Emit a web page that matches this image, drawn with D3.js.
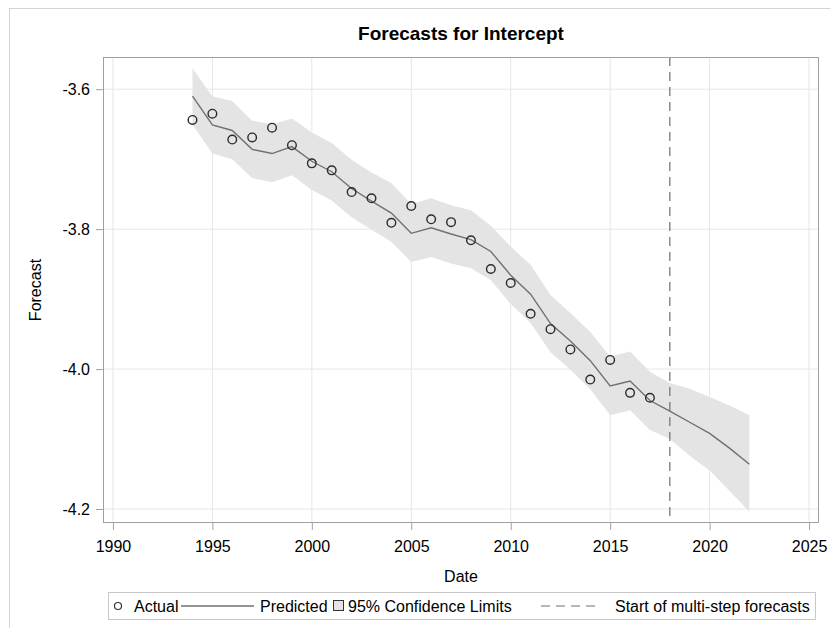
<!DOCTYPE html>
<head>
  <meta charset="utf-8">
  <script src="https://d3js.org/d3.v7.min.js"></script>
  <style>
    body { margin:0; background:#fff; }
    text { font-family: "Liberation Sans", Arial, sans-serif; fill:#000; }
  </style>
</head>

<body>
  <script>
    var width = 830;
    var height = 628;

    // data
    var actualYears = d3.range(1994, 2018);
    var actual = [-3.644, -3.635, -3.672, -3.669, -3.655, -3.680, -3.706, -3.716,
                  -3.747, -3.756, -3.791, -3.767, -3.786, -3.790, -3.816, -3.857,
                  -3.877, -3.921, -3.943, -3.972, -4.015, -3.987, -4.034, -4.041];

    var predYears = d3.range(1994, 2023);
    var predicted = [-3.610, -3.651, -3.659, -3.686, -3.692, -3.682, -3.703, -3.718,
                     -3.742, -3.760, -3.777, -3.806, -3.798, -3.807, -3.815, -3.832,
                     -3.866, -3.893, -3.935, -3.960, -3.988, -4.024, -4.017, -4.045,
                     -4.060, -4.076, -4.092, -4.113, -4.136];
    var upper = [-3.570, -3.610, -3.617, -3.645, -3.650, -3.642, -3.662, -3.677,
                 -3.701, -3.719, -3.734, -3.764, -3.756, -3.766, -3.773, -3.795,
                 -3.825, -3.851, -3.894, -3.920, -3.947, -3.982, -3.975, -4.004,
                 -4.020, -4.028, -4.040, -4.052, -4.066];
    var lower = [-3.651, -3.692, -3.700, -3.727, -3.733, -3.723, -3.744, -3.759,
                 -3.783, -3.801, -3.818, -3.847, -3.840, -3.849, -3.856, -3.873,
                 -3.907, -3.934, -3.976, -4.001, -4.029, -4.066, -4.059, -4.087,
                 -4.100, -4.124, -4.145, -4.174, -4.204];

    var forecastStart = 2018;
    var xTicks = [1990, 1995, 2000, 2005, 2010, 2015, 2020, 2025];
    var yTicks = [-3.6, -3.8, -4.0, -4.2];

    var margin = {top: 57, left: 103, right: 11, bottom: 105};

    var svg = d3.select("body")
      .append("svg")
      .attr("width", width)
      .attr("height", height);

    // outer frame (only top and left edges show)
    svg.append("rect")
      .attr("x", 9.5).attr("y", 8.5)
      .attr("width", width + 20).attr("height", height + 20)
      .attr("fill", "none").attr("stroke", "#d4d4d4");

    var x = d3.scaleLinear()
      .domain([1989.5, 2025.5])
      .range([margin.left, width - margin.right]);

    var y = d3.scaleLinear()
      .domain([-3.554, -4.22])
      .range([margin.top, height - margin.bottom]);

    var plotW = width - margin.right - margin.left;
    var plotH = height - margin.bottom - margin.top;

    // grid
    svg.append("g")
      .selectAll("line.vg")
      .data(xTicks)
      .enter().append("line")
      .attr("x1", function(d) { return x(d); })
      .attr("x2", function(d) { return x(d); })
      .attr("y1", margin.top).attr("y2", margin.top + plotH)
      .attr("stroke", "#e6e6e6");

    svg.append("g")
      .selectAll("line.hg")
      .data(yTicks)
      .enter().append("line")
      .attr("x1", margin.left).attr("x2", margin.left + plotW)
      .attr("y1", function(d) { return y(d); })
      .attr("y2", function(d) { return y(d); })
      .attr("stroke", "#e6e6e6");

    // confidence band
    var band = predYears.map(function(yr, i) {
      return {year: yr, lo: lower[i], hi: upper[i]};
    });
    svg.append("path")
      .datum(band)
      .attr("fill", "#e4e4e4")
      .attr("d", d3.area()
        .x(function(d) { return x(d.year); })
        .y0(function(d) { return y(d.lo); })
        .y1(function(d) { return y(d.hi); }));

    // predicted line
    svg.append("path")
      .datum(predYears.map(function(yr, i) { return {year: yr, v: predicted[i]}; }))
      .attr("fill", "none")
      .attr("stroke", "#707070")
      .attr("stroke-width", 1.4)
      .attr("d", d3.line()
        .x(function(d) { return x(d.year); })
        .y(function(d) { return y(d.v); }));

    // start of forecasts
    svg.append("line")
      .attr("x1", x(forecastStart)).attr("x2", x(forecastStart))
      .attr("y1", margin.top).attr("y2", margin.top + plotH)
      .attr("stroke", "#6e6e6e")
      .attr("stroke-width", 1.2)
      .attr("stroke-dasharray", "9,6");

    // actual points
    svg.append("g")
      .selectAll("circle")
      .data(actualYears.map(function(yr, i) { return {year: yr, v: actual[i]}; }))
      .enter().append("circle")
      .attr("cx", function(d) { return x(d.year); })
      .attr("cy", function(d) { return y(d.v); })
      .attr("r", 4.3)
      .attr("fill", "none")
      .attr("stroke", "#2b2b2b")
      .attr("stroke-width", 1.4);

    // axes
    var xAxis = svg.append("g")
      .attr("transform", "translate(0," + (margin.top + plotH) + ")")
      .call(d3.axisBottom(x).tickValues(xTicks).tickSize(7).tickPadding(11)
        .tickFormat(function(d) { return String(d); }));
    var yAxis = svg.append("g")
      .attr("transform", "translate(" + margin.left + ",0)")
      .call(d3.axisLeft(y).tickValues(yTicks).tickSize(7).tickPadding(6)
        .tickFormat(function(d) { return d.toFixed(1); }));

    [xAxis, yAxis].forEach(function(a) {
      a.select(".domain").remove();
      a.selectAll(".tick line").attr("stroke", "#a0a0a0");
      a.selectAll(".tick text").style("font-size", "16px").attr("fill", "#000");
    });
    yAxis.selectAll(".tick text").attr("dy", "0.36em");

    // plot frame
    svg.append("rect")
      .attr("x", margin.left + 0.5).attr("y", margin.top + 0.5)
      .attr("width", plotW - 1).attr("height", plotH - 1)
      .attr("fill", "none").attr("stroke", "#a0a0a0");

    // titles
    svg.append("text")
      .attr("x", margin.left + plotW / 2).attr("y", 40)
      .attr("text-anchor", "middle")
      .style("font-size", "19px").style("font-weight", "bold")
      .text("Forecasts for Intercept");

    svg.append("text")
      .attr("x", margin.left + plotW / 2).attr("y", 582)
      .attr("text-anchor", "middle")
      .style("font-size", "16px")
      .text("Date");

    svg.append("text")
      .attr("transform", "translate(41," + (margin.top + plotH / 2) + ") rotate(-90)")
      .attr("text-anchor", "middle")
      .style("font-size", "16px")
      .text("Forecast");

    // legend
    var lg = svg.append("g");
    var ly = 606;
    lg.append("rect")
      .attr("x", 108.5).attr("y", 592.5)
      .attr("width", 707).attr("height", 27)
      .attr("fill", "#fff").attr("stroke", "#c8c8c8");

    lg.append("circle").attr("cx", 118).attr("cy", ly).attr("r", 3.5)
      .attr("fill", "none").attr("stroke", "#333").attr("stroke-width", 1.2);
    lg.append("text").attr("x", 134).attr("y", ly + 6).style("font-size", "16px").text("Actual");

    lg.append("line").attr("x1", 181).attr("x2", 254).attr("y1", ly).attr("y2", ly)
      .attr("stroke", "#707070").attr("stroke-width", 1.4);
    lg.append("text").attr("x", 260).attr("y", ly + 6).style("font-size", "16px").text("Predicted");

    lg.append("rect").attr("x", 333.5).attr("y", ly - 5.5).attr("width", 10).attr("height", 10)
      .attr("fill", "#e4e4e4").attr("stroke", "#333");
    lg.append("text").attr("x", 348).attr("y", ly + 6).style("font-size", "16px").text("95% Confidence Limits");

    lg.append("line").attr("x1", 541).attr("x2", 598).attr("y1", ly).attr("y2", ly)
      .attr("stroke", "#6e6e6e").attr("stroke-dasharray", "9,6");
    lg.append("text").attr("x", 615).attr("y", ly + 6).style("font-size", "16px").text("Start of multi-step forecasts");
  </script>
</body>
